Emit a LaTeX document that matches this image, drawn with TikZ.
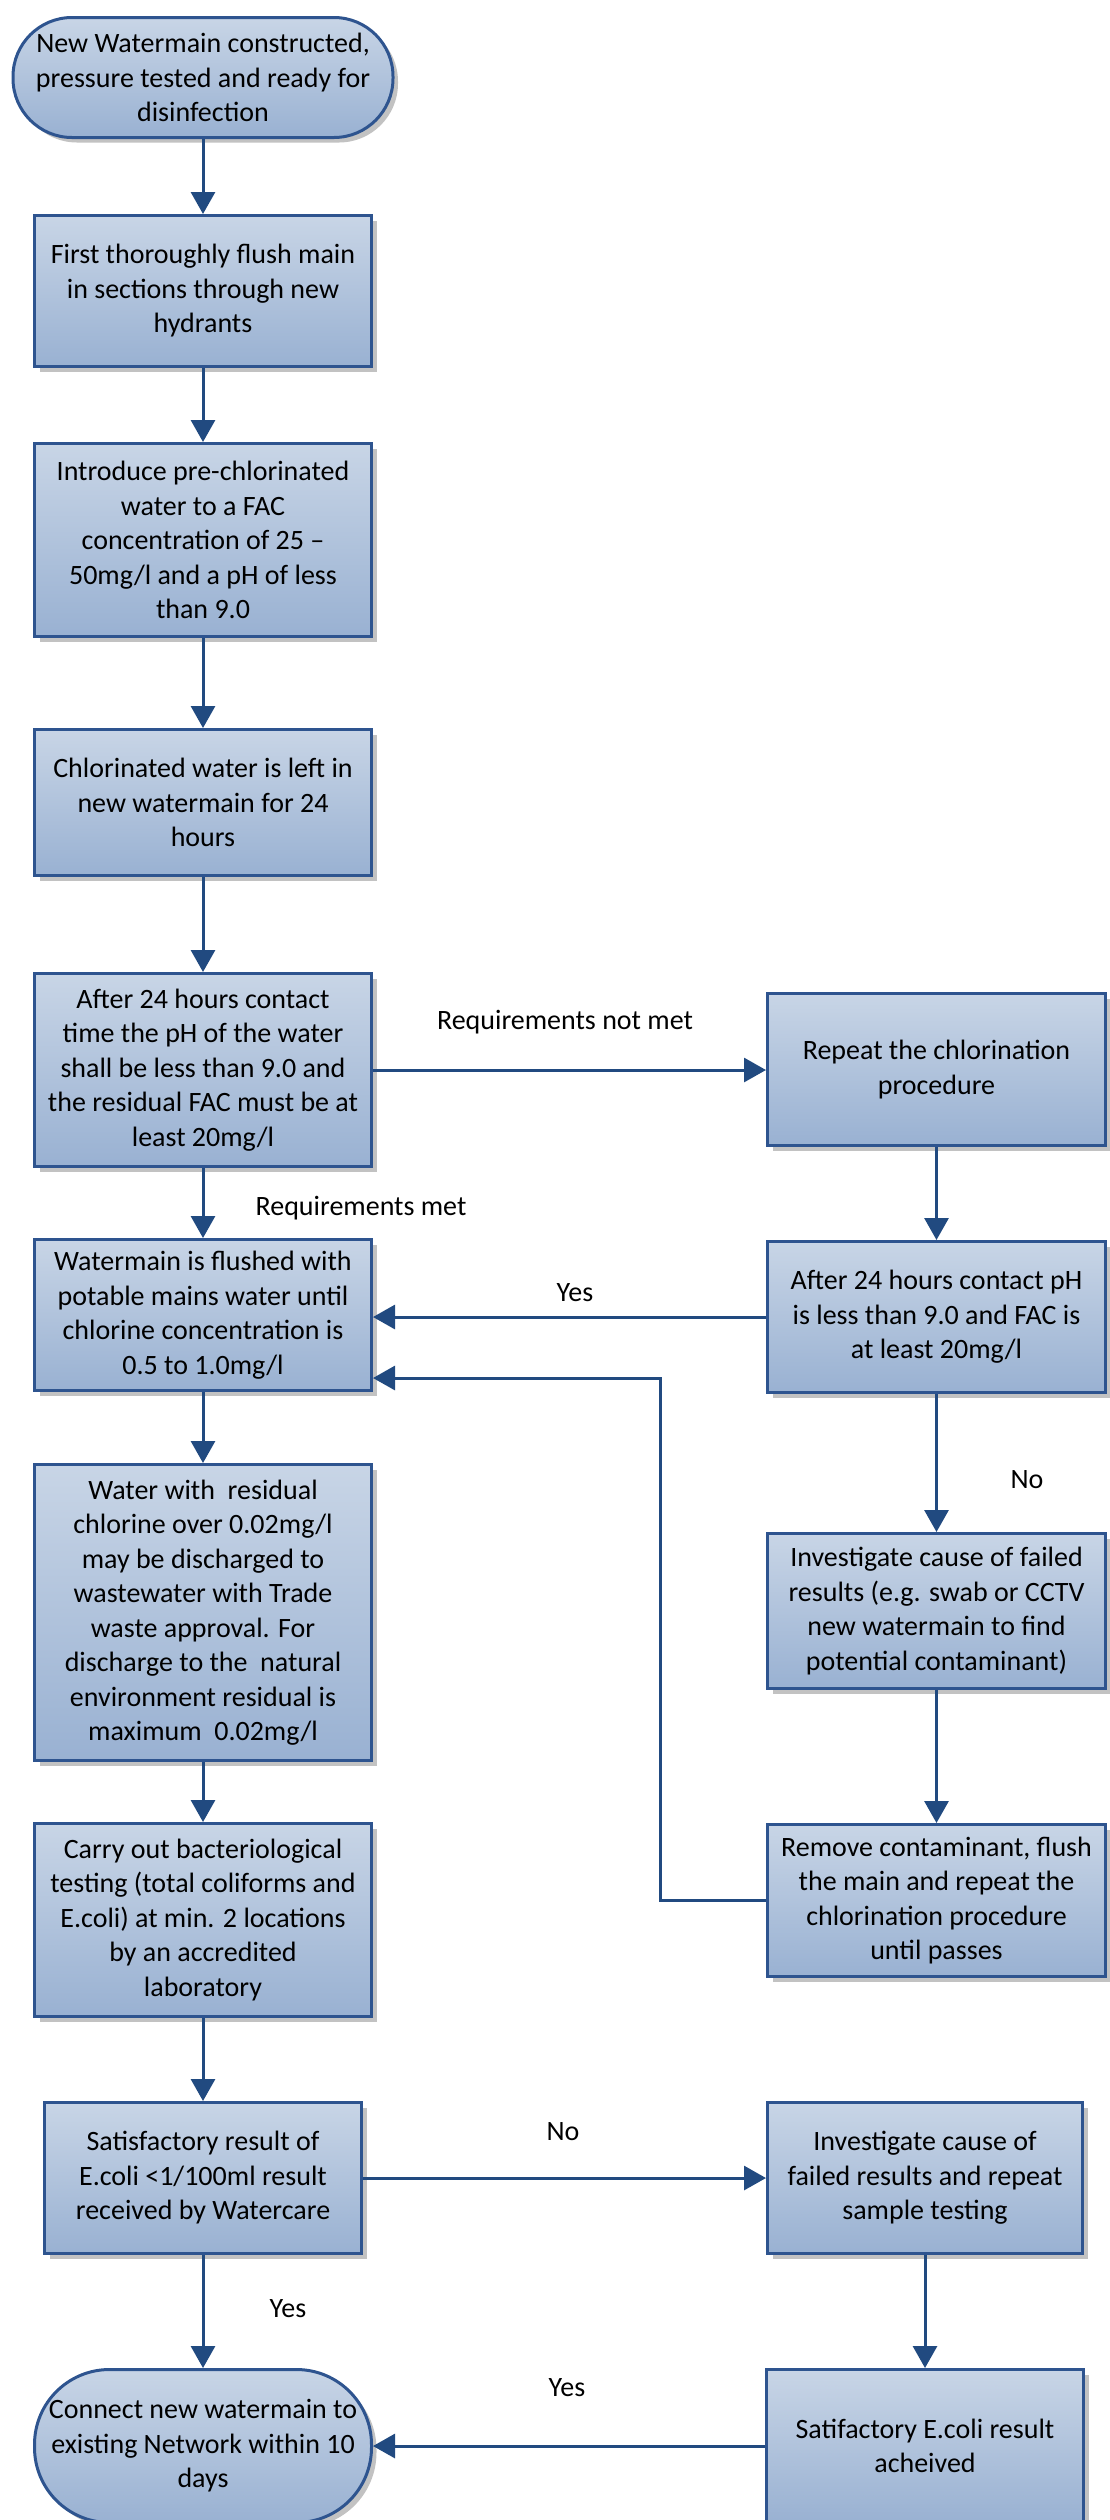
\documentclass[tikz,border=0pt]{standalone}
\usepackage{fontspec}
\setmainfont{Carlito}
\usetikzlibrary{arrows.meta,shadows}
\definecolor{bordc}{RGB}{46,84,143}
\definecolor{arrc}{RGB}{33,74,128}
\definecolor{topc}{RGB}{200,213,230}
\definecolor{botc}{RGB}{153,177,210}
\begin{document}
\begin{tikzpicture}[x=1pt,y=-1pt,
  every node/.style={font=\fontsize{28}{34.5}\selectfont, align=center, text=black},
  boxbase/.style={draw=bordc, line width=3pt, top color=topc, bottom color=botc,
    drop shadow={shadow xshift=5pt, shadow yshift=-5pt, fill=black!40, opacity=0.6},
    inner sep=0pt, rectangle},
  pbox/.style={boxbase, minimum width=337pt},
  termbox/.style={boxbase},
  arr/.style={draw=arrc, line width=3pt, -{Triangle[width=24pt,length=22pt]}},
  lbl/.style={inner sep=0pt}]
\useasboundingbox (0,0) rectangle (1110,2520);

% left column
\node[termbox, minimum width=380pt, minimum height=120pt, rounded corners=59pt] (start) at (203,77.5)
  {New Watermain constructed,\\ pressure tested and ready for\\ disinfection};
\node[pbox, minimum height=151pt] (b2) at (203,291)
  {First thoroughly flush main\\ in sections through new\\ hydrants};
\node[pbox, minimum height=193pt] (b3) at (203,540)
  {Introduce pre-chlorinated\\ water to a FAC\\ concentration of 25 –\\ 50mg/l and a pH of less\\ than 9.0};
\node[pbox, minimum height=146pt] (b4) at (203,802.5)
  {Chlorinated water is left in\\ new watermain for 24\\ hours};
\node[pbox, minimum height=193pt] (b5) at (203,1070)
  {After 24 hours contact\\ time the pH of the water\\ shall be less than 9.0 and\\ the residual FAC must be at\\ least 20mg/l};
\node[pbox, minimum height=151pt] (b6) at (203,1315)
  {Watermain is flushed with\\ potable mains water until\\ chlorine concentration is\\ 0.5 to 1.0mg/l};
\node[pbox, minimum height=296pt] (b7) at (203,1612.5)
  {Water with\ \ residual\\ chlorine over 0.02mg/l\\ may be discharged to\\ wastewater with Trade\\ waste approval. For\\ discharge to the\ \ natural\\ environment residual is\\ maximum\ \ 0.02mg/l};
\node[pbox, minimum height=193pt] (b8) at (203,1920)
  {Carry out bacteriological\\ testing (total coliforms and\\ E.coli) at min. 2 locations\\ by an accredited\\ laboratory};
\node[pbox, minimum width=317pt, minimum height=151pt] (b9) at (203,2178)
  {Satisfactory result of\\ E.coli <1/100ml result\\ received by Watercare};
\node[termbox, minimum width=337pt, minimum height=153pt, rounded corners=75pt] (end) at (203,2446)
  {Connect new watermain to\\ existing Network within 10\\ days};

% right column
\node[pbox, minimum width=338pt, minimum height=152pt] (r1) at (936.5,1069.5)
  {Repeat the chlorination\\ procedure};
\node[pbox, minimum width=338pt, minimum height=151pt] (r2) at (936.5,1317)
  {After 24 hours contact pH\\ is less than 9.0 and FAC is\\ at least 20mg/l};
\node[pbox, minimum width=338pt, minimum height=155pt] (r3) at (936.5,1611)
  {Investigate cause of failed\\ results (e.g. swab or CCTV\\ new watermain to find\\ potential contaminant)};
\node[pbox, minimum width=338pt, minimum height=152pt] (r4) at (936.5,1900.5)
  {Remove contaminant, flush\\ the main and repeat the\\ chlorination procedure\\ until passes};
\node[pbox, minimum width=315pt, minimum height=151pt] (r5) at (925,2178)
  {Investigate cause of\\ failed results and repeat\\ sample testing};
\node[pbox, minimum width=317pt, minimum height=153pt] (r6) at (925,2446)
  {Satifactory E.coli result\\ acheived};

% labels
\node[lbl] (l1) at (565,1022) {Requirements not met};
\node[lbl] (l2) at (361,1208) {Requirements met};
\node[lbl] (l3) at (575,1293) {Yes};
\node[lbl] (l4) at (1027,1480) {No};
\node[lbl] (l5) at (563,2132) {No};
\node[lbl] (l6) at (288,2309) {Yes};
\node[lbl] (l7) at (567,2388) {Yes};

\coordinate (lp) at (660,1378);

% connectors
\draw[arr] (start) -- (b2);
\draw[arr] (b2) -- (b3);
\draw[arr] (b3) -- (b4);
\draw[arr] (b4) -- (b5);
\draw[arr] (b5.east) -- (b5.east -| r1.west);
\draw[arr] (b5) -- (b6);
\draw[arr] (r1) -- (r2);
\draw[arr] (r2.west) -- (r2.west -| b6.east);
\draw[arr] (r2) -- (r3);
\draw[arr] (r3) -- (r4);
\draw[arr] (r4.west) -| (lp) -- (lp -| b6.east);
\draw[arr] (b6) -- (b7);
\draw[arr] (b7) -- (b8);
\draw[arr] (b8) -- (b9);
\draw[arr] (b9.east) -- (b9.east -| r5.west);
\draw[arr] (b9) -- (end);
\draw[arr] (r5) -- (r6);
\draw[arr] (r6.west) -- (r6.west -| end.east);
\end{tikzpicture}
\end{document}
